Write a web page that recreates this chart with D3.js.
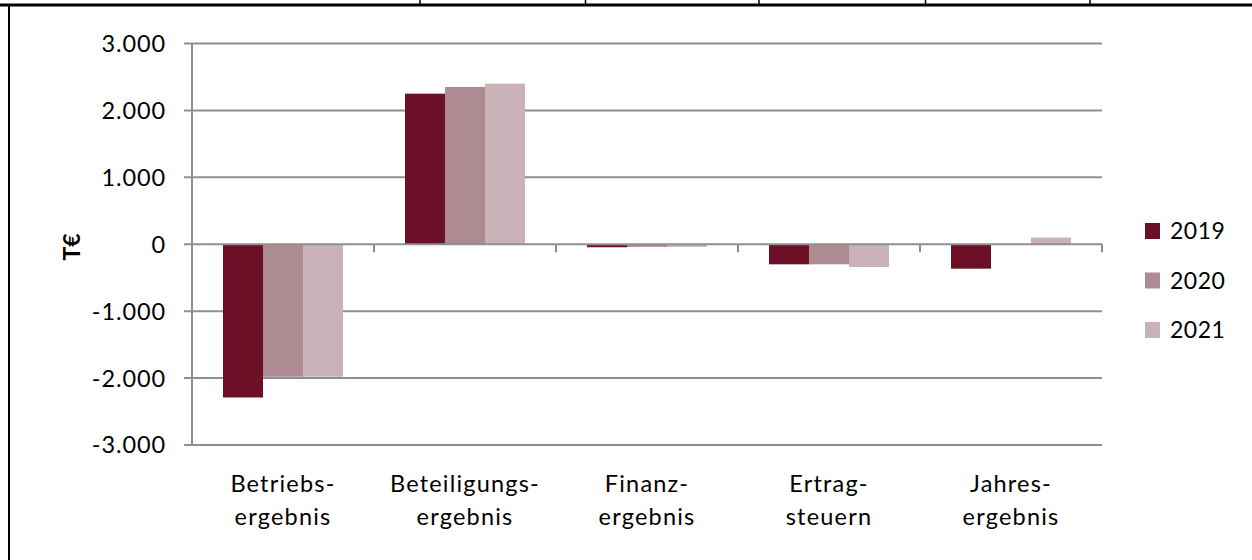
<!DOCTYPE html>
<html>
<head>
<meta charset="utf-8">
<script src="https://cdn.jsdelivr.net/npm/d3@7"></script>
<style>
  html, body { margin: 0; padding: 0; background: #fff; }
  svg { display: block; }
  text { font-family: Lato, "Open Sans", sans-serif; fill: #000; }
</style>
</head>
<body>
<svg id="chart" width="1252" height="560"></svg>
<script>
// ---- data ----
const categories = ["Betriebs-\nergebnis", "Beteiligungs-\nergebnis", "Finanz-\nergebnis", "Ertrag-\nsteuern", "Jahres-\nergebnis"];
const years = ["2019", "2020", "2021"];
const values2019 = [-2290, 2250, -45, -300, -365];
const values2020 = [-1980, 2350, -40, -300, 5];
const values2021 = [-1980, 2400, -40, -340, 100];
const yTicks = [-3000, -2000, -1000, 0, 1000, 2000, 3000];
const colors = ["#6d1027", "#ae8a92", "#c9b3b8"];
const yLabel = "T€";

const series = [values2019, values2020, values2021];

// ---- layout ----
const svg = d3.select("#chart");
const W = 1252, H = 560;
const plot = { left: 192, right: 1102, top: 43.5, bottom: 445 };

const de = d3.formatLocale({ decimal: ",", thousands: ".", grouping: [3], currency: ["", " €"], minus: "-" });
const fmt = de.format(",.0f");

const x = d3.scaleBand().domain(categories).range([plot.left, plot.right]).padding(0);
const x1 = d3.scaleBand().domain(years).range([0, x.bandwidth()]).paddingInner(0).paddingOuter(0.775);
const y = d3.scaleLinear().domain([-3000, 3000]).range([plot.bottom, plot.top]);
const color = d3.scaleOrdinal().domain(years).range(colors);

const gridColor = "#8f8f8f";

// table borders (page decoration)
svg.append("line").attr("x1", 0).attr("x2", W).attr("y1", 5).attr("y2", 5)
  .attr("stroke", "#000").attr("stroke-width", 3);
[420, 585.5, 759, 925.5, 1090].forEach(px => {
  svg.append("line").attr("x1", px).attr("x2", px).attr("y1", 0).attr("y2", 5)
    .attr("stroke", "#000").attr("stroke-width", 1.5);
});
svg.append("line").attr("x1", 9).attr("x2", 9).attr("y1", 5).attr("y2", H)
  .attr("stroke", "#000").attr("stroke-width", 2);

// gridlines (with left tick extension)
const grid = svg.append("g");
grid.selectAll("line").data(yTicks.filter(d => d !== 0)).join("line")
  .attr("x1", plot.left - 8).attr("x2", plot.right)
  .attr("y1", d => y(d)).attr("y2", d => y(d))
  .attr("stroke", gridColor).attr("stroke-width", 2);

// y tick labels
svg.append("g").selectAll("text").data(yTicks).join("text")
  .attr("x", 166).attr("y", d => y(d)).attr("dy", "0.36em")
  .attr("text-anchor", "end").style("font-size", "23.5px").style("letter-spacing", "0.9px")
  .text(d => fmt(d));

// bars
const groups = svg.append("g").selectAll("g").data(categories).join("g")
  .attr("transform", d => `translate(${x(d)},0)`);
groups.selectAll("rect")
  .data((c, i) => years.map((yr, j) => ({ yr, v: series[j][i] })))
  .join("rect")
  .attr("x", d => x1(d.yr))
  .attr("width", x1.bandwidth())
  .attr("y", d => y(Math.max(0, d.v)))
  .attr("height", d => Math.abs(y(d.v) - y(0)))
  .attr("fill", d => color(d.yr));

// y axis line
svg.append("line").attr("x1", plot.left).attr("x2", plot.left)
  .attr("y1", plot.top).attr("y2", plot.bottom)
  .attr("stroke", gridColor).attr("stroke-width", 2);

// zero line (category axis) + ticks
svg.append("line").attr("x1", plot.left - 8).attr("x2", plot.right)
  .attr("y1", y(0)).attr("y2", y(0))
  .attr("stroke", gridColor).attr("stroke-width", 2);
const boundaries = categories.map(c => x(c) + x.bandwidth()).concat([plot.left]);
svg.append("g").selectAll("line").data(boundaries).join("line")
  .attr("x1", d => d).attr("x2", d => d)
  .attr("y1", y(0)).attr("y2", y(0) + 8)
  .attr("stroke", gridColor).attr("stroke-width", 2);

// category labels
const labels = svg.append("g").selectAll("text").data(categories).join("text")
  .attr("text-anchor", "middle").style("font-size", "23.5px").style("letter-spacing", "1.2px")
  .attr("transform", d => `translate(${x(d) + x.bandwidth() / 2},0)`);
labels.selectAll("tspan").data(d => d.split("\n")).join("tspan")
  .attr("x", 0).attr("y", (d, i) => 492 + i * 33).text(d => d);

// y axis title
svg.append("text")
  .attr("transform", `translate(80,247) rotate(-90)`)
  .attr("text-anchor", "middle")
  .style("font-size", "23px").style("font-weight", "bold")
  .text(yLabel);

// legend
const legend = svg.append("g").selectAll("g").data(years).join("g")
  .attr("transform", (d, i) => `translate(1145,${223 + i * 49.5})`);
legend.append("rect").attr("width", 15).attr("height", 16).attr("fill", d => color(d));
legend.append("text").attr("x", 25).attr("y", 8).attr("dy", "0.36em")
  .style("font-size", "23px").style("letter-spacing", "0.5px").text(d => d);
</script>
</body>
</html>
